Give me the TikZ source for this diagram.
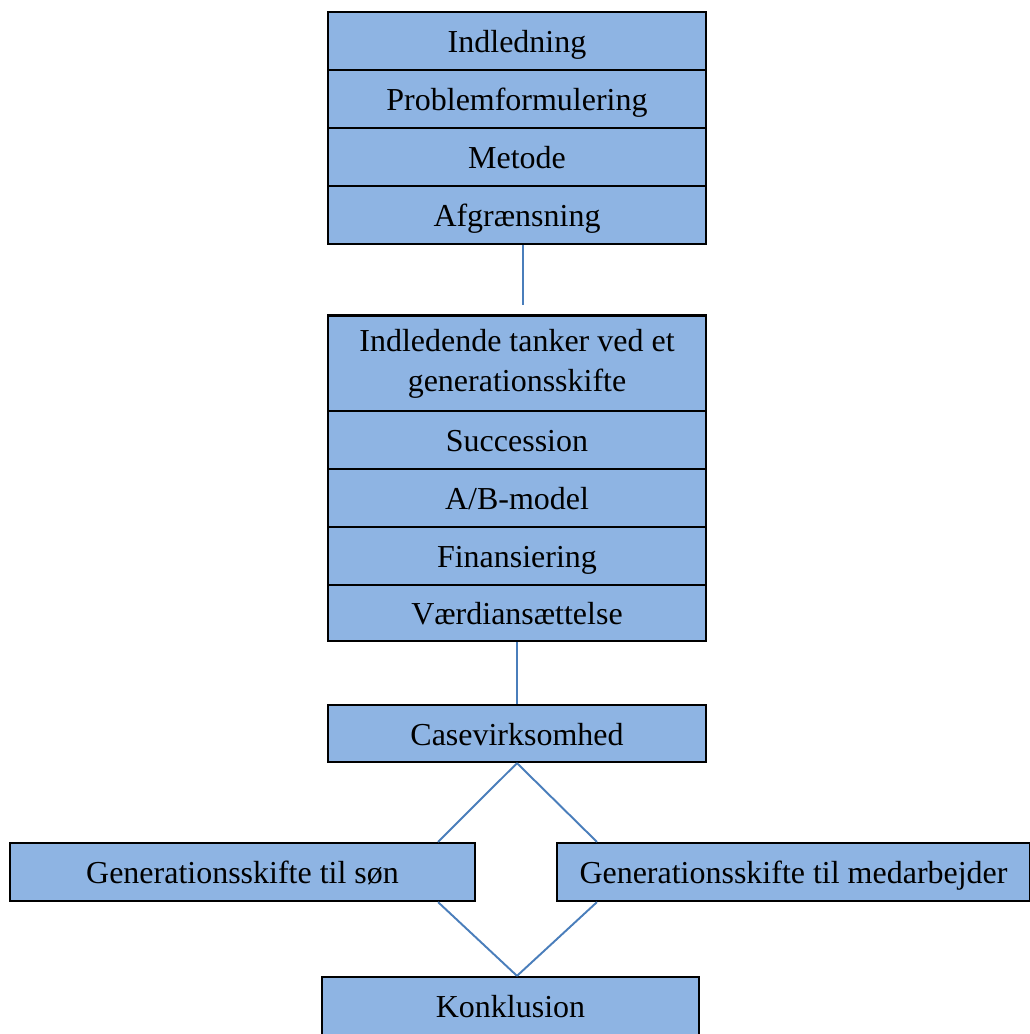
\documentclass[tikz,border=0pt]{standalone}
\usepackage{fontspec}
\setmainfont{Liberation Serif}
\usetikzlibrary{calc}
\definecolor{boxfill}{RGB}{142,180,227}
\definecolor{linkblue}{RGB}{74,126,187}

\begin{document}
\begin{tikzpicture}[x=0.02cm, y=-0.02cm,
    node font=\fontsize{18.2}{22.8}\selectfont,
    part/.style={draw=black, line width=1.3pt, fill=boxfill, inner sep=0pt,
      align=center, text height=17pt, text depth=3.4pt,
      minimum width=7.56cm, minimum height=1.16cm},
    link/.style={draw=linkblue, line width=1.1pt}]
        \useasboundingbox (0,0) rectangle (1030,1034);
        % forside
        \node[part] (indl) at (517,41) {Indledning};
        \node[part] (prob) at (517,99) {Problemformulering};
        \node[part] (metode) at (517,157) {Metode};
        \node[part] (afgr) at (517,215) {Afgrænsning};
        % teori
        \node[part, text height={}, text depth={}, minimum height=1.94cm] (tank) at (517,364)
          {Indledende tanker ved et\\generationsskifte};
        \node[part] (succ) at (517,440) {Succession};
        \node[part] (abm) at (517,498) {A/B-model};
        \node[part] (fin) at (517,556) {Finansiering};
        \node[part, minimum height=1.12cm] (vaerdi) at (517,613) {Værdiansættelse};
        % case
        \node[part, minimum height=1.14cm] (case) at (517,733.5) {Casevirksomhed};
        \node[part, minimum width=9.3cm] (son) at (242.5,872) {Generationsskifte til søn};
        \node[part, minimum width=9.46cm] (med) at (793.5,872) {Generationsskifte til medarbejder};
        \node[part, minimum width=7.54cm] (kon) at (510.5,1006) {Konklusion};
        \coordinate (gap) at (523,305);
        \draw[link] ($(afgr.south)+(6,0)$) -- (gap);
        \draw[link] (vaerdi.south) -- (case.north);
        \draw[link] (case.south) -- ($(son.north east)+(-38,0)$);
        \draw[link] (case.south) -- ($(med.north west)+(41,0)$);
        \draw[link] ($(son.south east)+(-38,0)$) -- ($(kon.north)+(6.5,0)$);
        \draw[link] ($(med.south west)+(41,0)$) -- ($(kon.north)+(6.5,0)$);
      \end{tikzpicture}
\end{document}
